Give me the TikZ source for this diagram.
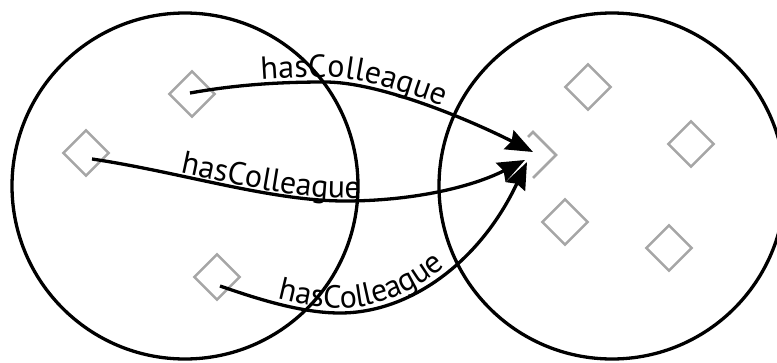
\documentclass[tikz,border=0pt]{standalone}
\usepackage{fontspec}
\setmainfont{PT Sans}
\usetikzlibrary{arrows.meta,decorations.text}
\begin{document}
\begin{tikzpicture}[x=1pt,y=-1pt,
  setring/.style={draw, circle, line width=3.3pt, minimum size=346pt, inner sep=0pt},
  member/.style={draw=black!35, line width=2.5pt, shape=rectangle, minimum size=32pt, inner sep=0pt, rotate=45},
  memberline/.style={draw=black!35, line width=2.5pt},
  rel/.style={line width=3.3pt, -{Stealth[length=27pt,width=21pt,inset=3pt]}},
  rellabel/.style 2 args={postaction={decorate, decoration={text along path,
      text={|\fontsize{32}{32}\selectfont|hasColleague},
      text align={left indent=#1}, raise=#2}}}
]
\useasboundingbox (0,0) rectangle (777,362);
\clip (0,0) rectangle (777,362);

% the two sets
\node[setring] (left)  at (185,186) {};
\node[setring] (right) at (612,186) {};

% members of the left set
\node[member] (d1) at (192,94) {};
\node[member] (d2) at (86,153) {};
\node[member] (d3) at (217,277) {};

% members of the right set
\node[member] (e1) at (588,87) {};
\node[member] (e2) at (691,144) {};
\node[member] (e3) at (565,222) {};
\node[member] (e4) at (669,248) {};

% the shared colleague, partly hidden behind the arrow tips
\coordinate (t) at (533,155);
\draw[memberline] ([shift={(-5,-18)}]t) -- ([shift={(0,-23)}]t) -- ([shift={(23,0)}]t) -- ([shift={(0,23)}]t);

\coordinate (tipA) at ([shift={(0,-3)}]t);
\coordinate (tipB) at ([shift={(-8,5)}]t);
\coordinate (tipC) at ([shift={(-6,7)}]t);

% hasColleague relations
\draw[rel, rellabel={72pt}{5pt}] ([shift={(-2,-1)}]d1.center)
  .. controls (240,84) and (285,82) .. (325,82)
  .. controls (380,82) and (470,120) .. (tipA);
\draw[rel, rellabel={89pt}{3pt}] ([shift={(6,6)}]d2.center)
  .. controls (180,172) and (270,201) .. (345,201)
  .. controls (410,201) and (470,188) .. (tipB);
\draw[rel, rellabel={59pt}{5pt}] ([shift={(3,9)}]d3.center)
  .. controls (255,298) and (300,313) .. (340,313)
  .. controls (410,313) and (480,262) .. (tipC);
\end{tikzpicture}
\end{document}
